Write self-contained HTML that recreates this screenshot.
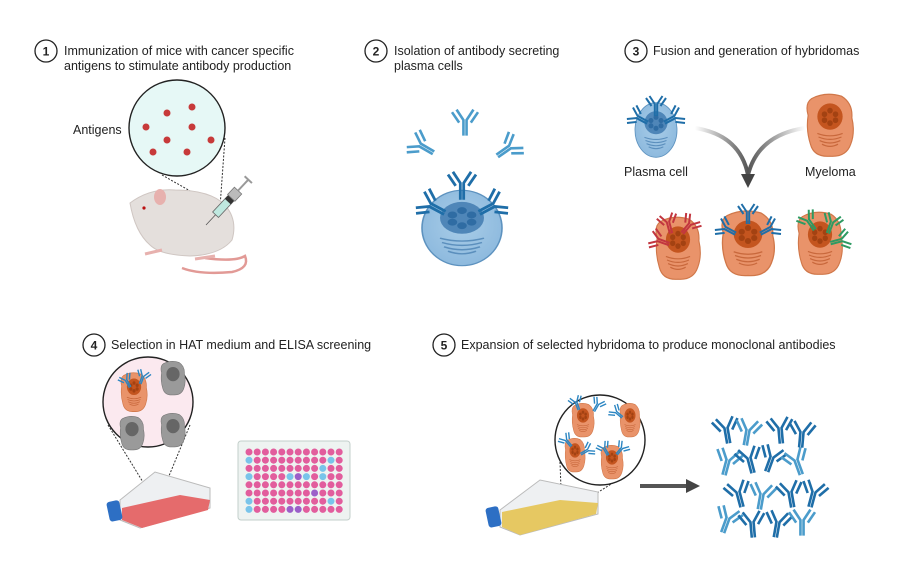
<!DOCTYPE html>
<html><head><meta charset="utf-8"><style>
html,body{margin:0;padding:0;background:#fff}
svg{display:block}
text{font-family:"Liberation Sans",sans-serif;fill:#222}
.t{font-size:12.5px}
.n{font-size:12px;font-weight:bold;text-anchor:middle}
</style></head><body>
<svg width="903" height="574" viewBox="0 0 903 574" xmlns="http://www.w3.org/2000/svg">
<defs>
<g id="ab" fill="none" stroke="currentColor" stroke-width="2" stroke-linecap="butt">
<path d="M-1.2 12 V0 L-6.5 -8 M1.2 12 V0 L6.5 -8 M-4.5 2 L-10 -6 M4.5 2 L10 -6" />
</g>
<radialGradient id="pc" cx="0.5" cy="0.45" r="0.6"><stop offset="0" stop-color="#a9cde8"/><stop offset="1" stop-color="#8bb8dd"/></radialGradient>
<g id="pcell">
<ellipse cx="0" cy="0" rx="1" ry="1.3" fill="url(#pc)" stroke="#5d92bf" stroke-width="0.04"/>
<circle cx="0" cy="-0.35" r="0.55" fill="#4f86b8"/>
<g fill="#2f6ca3"><circle cx="0" cy="-0.6" r="0.12"/><circle cx="0.24" cy="-0.45" r="0.12"/><circle cx="0.24" cy="-0.2" r="0.12"/><circle cx="0" cy="-0.08" r="0.12"/><circle cx="-0.24" cy="-0.2" r="0.12"/><circle cx="-0.24" cy="-0.45" r="0.12"/></g>
<g fill="none" stroke="#5b8fbd" stroke-width="0.05"><path d="M-0.55 0.35 Q0 0.55 0.55 0.35 M-0.5 0.5 Q0 0.7 0.5 0.5 M-0.45 0.65 Q0 0.85 0.45 0.65 M-0.35 0.8 Q0 0.98 0.35 0.8"/></g>
</g>
<g id="hyb">
<path d="M-0.8 -1.1 Q-0.2 -1.4 0.5 -1.2 Q1 -0.9 0.95 -0.3 Q1.1 0.3 0.9 0.8 Q0.7 1.35 0 1.3 Q-0.7 1.35 -0.85 0.8 Q-1.05 0.2 -0.95 -0.4 Q-1.1 -0.9 -0.8 -1.1Z" fill="#e9936a" stroke="#d07749" stroke-width="0.05"/>
<circle cx="0" cy="-0.35" r="0.55" fill="#c4551f"/>
<g fill="#a34212"><circle cx="0" cy="-0.6" r="0.12"/><circle cx="0.24" cy="-0.45" r="0.12"/><circle cx="0.24" cy="-0.2" r="0.12"/><circle cx="0" cy="-0.08" r="0.12"/><circle cx="-0.24" cy="-0.2" r="0.12"/><circle cx="-0.24" cy="-0.45" r="0.12"/></g>
<g fill="none" stroke="#c8683c" stroke-width="0.05"><path d="M-0.55 0.35 Q0 0.55 0.55 0.35 M-0.5 0.5 Q0 0.7 0.5 0.5 M-0.45 0.65 Q0 0.85 0.45 0.65 M-0.35 0.8 Q0 0.98 0.35 0.8"/></g>
</g>
<g id="gcell">
<path d="M-0.8 -1.1 Q-0.2 -1.4 0.5 -1.2 Q1 -0.9 0.95 -0.3 Q1.1 0.3 0.9 0.8 Q0.7 1.35 0 1.3 Q-0.7 1.35 -0.85 0.8 Q-1.05 0.2 -0.95 -0.4 Q-1.1 -0.9 -0.8 -1.1Z" fill="#9a9a9a" stroke="#777" stroke-width="0.05"/>
<circle cx="0" cy="-0.3" r="0.55" fill="#666"/>
</g>
<linearGradient id="ga" x1="0" x2="1"><stop offset="0" stop-color="#fff"/><stop offset="1" stop-color="#555"/></linearGradient>
<linearGradient id="gb" x1="1" x2="0"><stop offset="0" stop-color="#fff"/><stop offset="1" stop-color="#555"/></linearGradient>
</defs>

<g fill="none" stroke="#222" stroke-width="1.3">
<circle cx="46" cy="51" r="11"/><circle cx="376" cy="51" r="11"/><circle cx="636" cy="51" r="11"/>
<circle cx="94" cy="345" r="11"/><circle cx="444" cy="345" r="11"/>
</g>
<text class="n" x="46" y="55.5">1</text><text class="n" x="376" y="55.5">2</text><text class="n" x="636" y="55.5">3</text>
<text class="n" x="94" y="349.5">4</text><text class="n" x="444" y="349.5">5</text>
<text class="t" x="64" y="55">Immunization of mice with cancer specific</text>
<text class="t" x="64" y="70">antigens to stimulate antibody production</text>
<text class="t" x="394" y="55">Isolation of  antibody secreting</text>
<text class="t" x="394" y="70">plasma cells</text>
<text class="t" x="653" y="55">Fusion and generation of hybridomas</text>
<text class="t" x="111" y="349">Selection in HAT medium and ELISA screening</text>
<text class="t" x="461" y="349">Expansion of selected hybridoma to produce monoclonal antibodies</text>

<!-- Step 1 -->
<text class="t" x="73" y="134">Antigens</text>
<g stroke="#333" stroke-width="1" stroke-dasharray="2,1.5" fill="none"><path d="M162 175 L215 205 M225 138 L220 207"/></g>
<circle cx="177" cy="128" r="48" fill="#e6f8f6" stroke="#222" stroke-width="1.4"/>
<g fill="#c73a3a"><circle cx="167" cy="113" r="3.5"/><circle cx="192" cy="107" r="3.5"/><circle cx="146" cy="127" r="3.5"/><circle cx="192" cy="127" r="3.5"/><circle cx="167" cy="140" r="3.5"/><circle cx="211" cy="140" r="3.5"/><circle cx="153" cy="152" r="3.5"/><circle cx="187" cy="152" r="3.5"/></g>
<path d="M205 258 Q235 262 245 256 Q250 268 232 272 Q200 275 182 268" fill="none" stroke="#e29a96" stroke-width="2.5"/>
<path d="M130 203 Q150 188 175 190 Q210 190 225 205 Q238 220 232 240 Q220 255 190 256 Q160 255 150 245 Q135 232 130 203Z" fill="#e4dfdc" stroke="#cfc6c2" stroke-width="1"/>
<ellipse cx="160" cy="197" rx="6" ry="8" fill="#e7b1ae"/>
<circle cx="144" cy="208" r="1.6" fill="#b11"/>
<path d="M145 254 L162 250 M195 259 L215 256" stroke="#e7b1ae" stroke-width="3"/>
<g transform="translate(206,225) rotate(-47)">
<line x1="0" y1="0" x2="14" y2="0" stroke="#555" stroke-width="0.8"/>
<rect x="14" y="-4" width="22" height="8" fill="#bfe8df" stroke="#666" stroke-width="0.8"/>
<rect x="32" y="-4" width="5" height="8" fill="#333"/>
<rect x="37" y="-5" width="10" height="10" fill="#bbb" stroke="#777" stroke-width="0.8"/>
<line x1="47" y1="0" x2="62" y2="0" stroke="#999" stroke-width="2"/>
<line x1="62" y1="-5" x2="62" y2="5" stroke="#999" stroke-width="2"/>
</g>

<!-- Step 2 -->
<use href="#ab" color="#4b9ccb" transform="translate(420,145) rotate(-60) scale(1.3)"/>
<use href="#ab" color="#4b9ccb" transform="translate(465,120) scale(1.3)"/>
<use href="#ab" color="#4b9ccb" transform="translate(510,147) rotate(55) scale(1.3)"/>
<use href="#pcell" transform="translate(462,228) scale(40,29)"/>
<use href="#ab" color="#1f6ea8" transform="translate(462,183) scale(1.4)"/>
<use href="#ab" color="#1f6ea8" transform="translate(430,205) rotate(-62) scale(1.4)"/>
<use href="#ab" color="#1f6ea8" transform="translate(494,205) rotate(62) scale(1.4)"/>

<!-- Step 3 -->
<use href="#pcell" transform="translate(656,130) scale(21,21)"/>
<use href="#ab" color="#1f6ea8" transform="translate(656,104)"/>
<use href="#ab" color="#1f6ea8" transform="translate(637,117) rotate(-62)"/>
<use href="#ab" color="#1f6ea8" transform="translate(675,117) rotate(62)"/>
<use href="#hyb" transform="translate(830,125) scale(23,24)"/>
<text class="t" x="624" y="176">Plasma cell</text>
<text class="t" x="805" y="176">Myeloma</text>
<path d="M695 128 Q740 135 748 175" fill="none" stroke="url(#ga)" stroke-width="4"/>
<path d="M805 128 Q758 135 748 175" fill="none" stroke="url(#gb)" stroke-width="4"/>
<path d="M741 174 L755 174 L748 188Z" fill="#444"/>
<use href="#hyb" transform="translate(678,248) scale(22,24)"/>
<use href="#ab" color="#c2363f" transform="translate(668,222) rotate(-15)"/>
<use href="#ab" color="#c2363f" transform="translate(690,224) rotate(40)"/>
<use href="#ab" color="#c2363f" transform="translate(658,240) rotate(-70)"/>
<use href="#hyb" transform="translate(748,243) scale(26,25)"/>
<use href="#ab" color="#1f6ea8" transform="translate(748,212)"/>
<use href="#ab" color="#1f6ea8" transform="translate(725,228) rotate(-62)"/>
<use href="#ab" color="#1f6ea8" transform="translate(771,228) rotate(62)"/>
<use href="#hyb" transform="translate(820,243) scale(22,24)"/>
<use href="#ab" color="#2e9a62" transform="translate(808,220) rotate(-35)"/>
<use href="#ab" color="#2e9a62" transform="translate(832,222) rotate(20)"/>
<use href="#ab" color="#2e9a62" transform="translate(842,240) rotate(75)"/>

<!-- Step 4 -->
<g stroke="#333" stroke-width="1" stroke-dasharray="2,1.5" fill="none"><path d="M108 425 L157 505 L190 425"/></g>
<circle cx="148" cy="402" r="45" fill="#fbe9ef" stroke="#222" stroke-width="1.4"/>
<use href="#hyb" transform="translate(134,392) scale(13,15)"/>
<use href="#ab" color="#2c86c2" transform="translate(126,380) rotate(-30) scale(0.7)"/>
<use href="#ab" color="#2c86c2" transform="translate(143,376) rotate(20) scale(0.7)"/>
<use href="#gcell" transform="translate(173,378) scale(12,13)"/>
<use href="#gcell" transform="translate(132,433) scale(12,13)"/>
<use href="#gcell" transform="translate(173,430) scale(12,13)"/>
<path d="M120 500 L155 472 L210 488 L210 508 L140 528 L120 520Z" fill="#eef0f2" stroke="#bbb" stroke-width="1"/>
<path d="M122 508 L180 495 L210 500 L208 510 L142 528 L122 520Z" fill="#e56b6c"/>
<rect x="108" y="501" width="13" height="20" rx="3" fill="#2d6fc4" transform="rotate(-12 114 511)"/>
<rect x="238" y="441" width="112" height="79" rx="3" fill="#eef3f1" stroke="#c3cfcb" stroke-width="1"/>
<g id="wells"></g>

<!-- Step 5 -->
<g stroke="#333" stroke-width="1" stroke-dasharray="2,1.5" fill="none"><path d="M560 462 L562 515 L627 474"/></g>
<circle cx="600" cy="440" r="45" fill="#fff" stroke="#222" stroke-width="1.4"/>
<use href="#hyb" transform="translate(583,420) scale(11,13)"/>
<use href="#hyb" transform="translate(630,420) scale(10,13)"/>
<use href="#hyb" transform="translate(575,455) scale(10,13)"/>
<use href="#hyb" transform="translate(612,462) scale(11,13)"/>
<use href="#ab" color="#2c86c2" transform="translate(576,402) rotate(-20) scale(0.7)"/>
<use href="#ab" color="#2c86c2" transform="translate(598,404) rotate(30) scale(0.7)"/>
<use href="#ab" color="#2c86c2" transform="translate(616,412) rotate(-50) scale(0.7)"/>
<use href="#ab" color="#2c86c2" transform="translate(566,440) rotate(-40) scale(0.7)"/>
<use href="#ab" color="#2c86c2" transform="translate(588,450) rotate(60) scale(0.7)"/>
<use href="#ab" color="#2c86c2" transform="translate(604,448) rotate(-30) scale(0.7)"/>
<use href="#ab" color="#2c86c2" transform="translate(622,448) rotate(40) scale(0.7)"/>
<path d="M500 510 L540 480 L598 492 L598 514 L520 535 L500 527Z" fill="#eef0f2" stroke="#bbb" stroke-width="1"/>
<path d="M502 512 L560 500 L598 503 L596 514 L520 535 L502 527Z" fill="#e6c862"/>
<rect x="487" y="507" width="13" height="20" rx="3" fill="#2d6fc4" transform="rotate(-12 493 517)"/>
<line x1="640" y1="486" x2="688" y2="486" stroke="#555" stroke-width="4"/>
<path d="M686 479 L700 486 L686 493Z" fill="#444"/>
<g id="abs"></g>
</svg>
<script>
var ns="http://www.w3.org/2000/svg";
var w=document.getElementById("wells");
var blue={"1,0":1,"1,10":1,"3,0":1,"3,5":1,"3,7":1,"3,9":1,"2,9":1,"6,0":1,"6,10":1,"7,0":1};
var purp={"3,6":1,"5,8":1,"7,5":1,"7,6":1};
for(var r=0;r<8;r++)for(var c=0;c<12;c++){var e=document.createElementNS(ns,"circle");e.setAttribute("cx",249+c*8.2);e.setAttribute("cy",452+r*8.2);e.setAttribute("r",3.5);var k=r+","+c;e.setAttribute("fill",purp[k]?"#9b5fc9":(k in blue?"#79c4ea":"#e25d9d"));w.appendChild(e);}
var g=document.getElementById("abs");
var P=[[726,428,-10,"#1f6ea8"],[748,430,10,"#4b9ccb"],[780,428,-5,"#1f6ea8"],[728,460,15,"#4b9ccb"],[749,458,-15,"#1f6ea8"],[772,457,20,"#1f6ea8"],[796,460,-20,"#4b9ccb"],[802,432,5,"#1f6ea8"],[738,492,-15,"#1f6ea8"],[762,494,10,"#4b9ccb"],[790,492,-10,"#1f6ea8"],[728,518,20,"#4b9ccb"],[752,522,-5,"#1f6ea8"],[778,522,10,"#1f6ea8"],[802,520,0,"#4b9ccb"],[814,492,15,"#1f6ea8"]];
P.forEach(function(p){var u=document.createElementNS(ns,"use");u.setAttribute("href","#ab");u.setAttribute("color",p[3]);u.setAttribute("transform","translate("+p[0]+","+p[1]+") rotate("+p[2]+") scale(1.3)");g.appendChild(u);});
</script>
</body></html>
